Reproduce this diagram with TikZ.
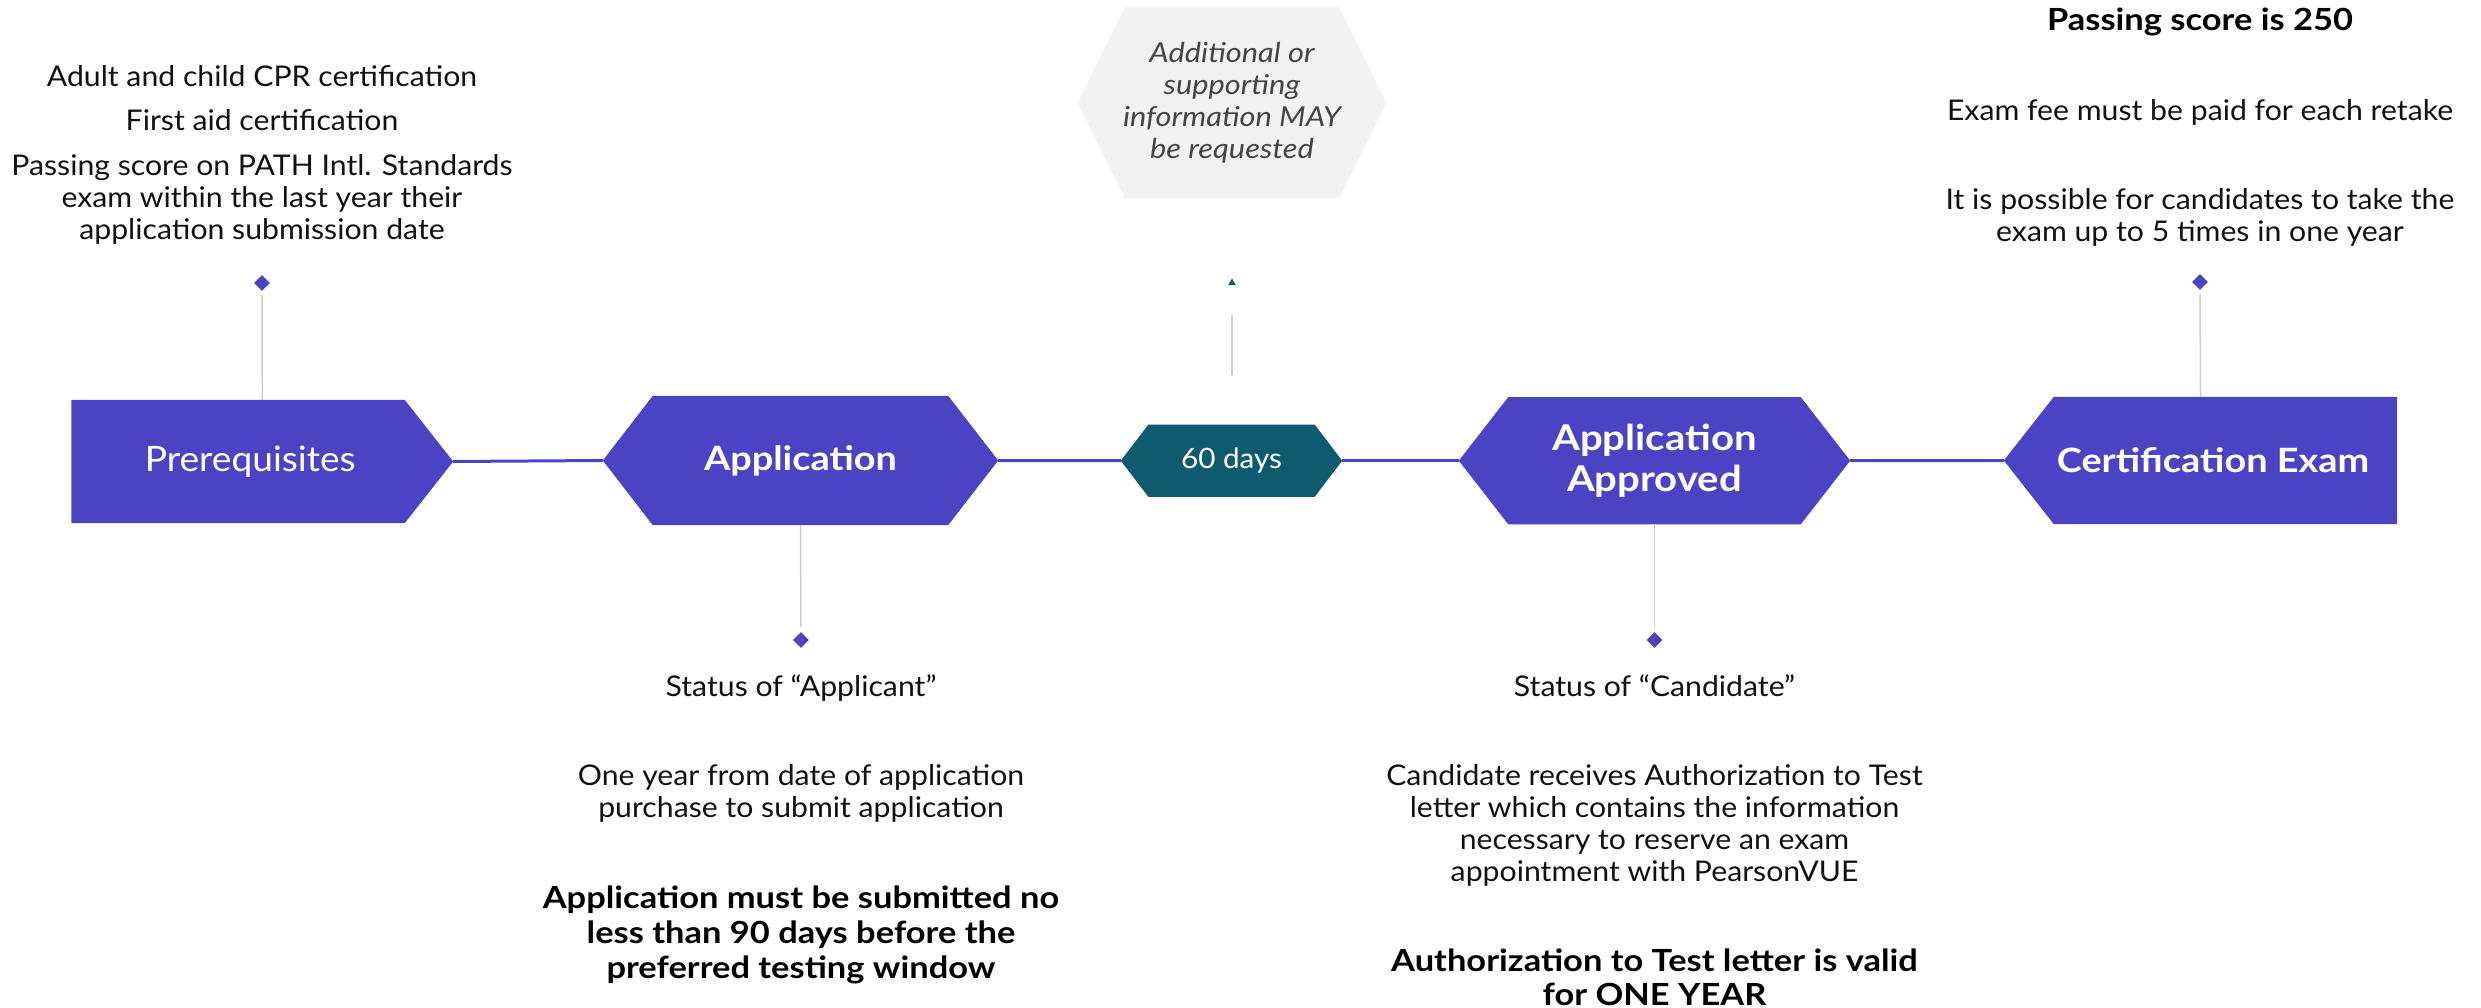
\documentclass[tikz,border=0pt]{standalone}
\usepackage{fontspec}
\setmainfont{Lato}[FakeStretch=1.06, BoldFeatures={FakeStretch=1.13}, ItalicFeatures={FakeStretch=1.12}]
\usetikzlibrary{shapes.geometric,backgrounds}
\definecolor{stepviolet}{HTML}{4A44C5}
\definecolor{waitteal}{HTML}{0E5A6E}
\definecolor{notegray}{HTML}{F2F2F2}
\definecolor{notetext}{HTML}{454545}
\definecolor{leadgray}{HTML}{CCCCCC}
\definecolor{bodytext}{HTML}{111111}
\begin{document}
\begin{tikzpicture}[x=1pt,y=-1pt,
  stage/.style={shape=rectangle, text=white, inner sep=0pt, align=center},
  flow/.style={draw=stepviolet, line width=3pt},
  lead/.style={draw=leadgray, line width=1.5pt},
  dot/.style={diamond, fill=stepviolet, inner sep=0pt, minimum width=16pt, minimum height=16pt},
  body/.style={font=\fontsize{28.5}{32}\selectfont, text=bodytext, align=center, anchor=base, inner sep=0pt},
  strong/.style={font=\bfseries\fontsize{30.5}{35}\selectfont, text=black, align=center, anchor=base, inner sep=0pt}
]
\useasboundingbox (0,0) rectangle (2481,1008);

% main stages (text boxes; outlines filled on background layer)
\node[stage, minimum width=381.4pt, minimum height=123pt,
      font=\fontsize{35}{40}\selectfont] (pre) at (262.3,461.5) {\hspace*{-24pt}Prerequisites};
\node[stage, minimum width=395pt, minimum height=129pt,
      font=\bfseries\fontsize{33.5}{40}\selectfont] (app) at (800.5,460.5) {Application};
\node[stage, minimum width=221pt, minimum height=72pt,
      font=\fontsize{28}{32}\selectfont] (wait) at (1231.5,460.7) {60 days};
\node[stage, minimum width=391pt, minimum height=127pt,
      font=\bfseries\fontsize{35.5}{41}\selectfont] (ok) at (1654.5,460.7) {Application\\Approved};
\node[stage, minimum width=393pt, minimum height=127pt,
      font=\bfseries\fontsize{33.5}{40}\selectfont] (exam) at (2200.5,460.5) {\hspace*{25pt}Certification Exam};

% note hexagon
\node[shape=rectangle, inner sep=0pt, minimum width=308pt, minimum height=190pt,
      font=\itshape\fontsize{27.5}{32}\selectfont, text=notetext, align=center]
  (extra) at (1232,102.7) {Additional or\\supporting\\information MAY\\be requested};

\begin{scope}[on background layer]
\fill[stepviolet] (pre.north west) -- ([xshift=-48.5pt]pre.north east) -- (pre.east)
   -- ([xshift=-48.5pt]pre.south east) -- (pre.south west) -- cycle;
\fill[stepviolet] (app.west) -- ([xshift=50pt]app.north west) -- ([xshift=-50pt]app.north east) -- (app.east)
   -- ([xshift=-50pt]app.south east) -- ([xshift=50pt]app.south west) -- cycle;
\fill[waitteal] (wait.west) -- ([xshift=27.6pt]wait.north west) -- ([xshift=-27.6pt]wait.north east) -- (wait.east)
   -- ([xshift=-27.6pt]wait.south east) -- ([xshift=27.6pt]wait.south west) -- cycle;
\fill[stepviolet] (ok.west) -- ([xshift=49.5pt]ok.north west) -- ([xshift=-49.5pt]ok.north east) -- (ok.east)
   -- ([xshift=-49.5pt]ok.south east) -- ([xshift=49.5pt]ok.south west) -- cycle;
\fill[stepviolet] (exam.west) -- ([xshift=50pt]exam.north west) -- (exam.north east)
   -- (exam.south east) -- ([xshift=50pt]exam.south west) -- cycle;
\fill[notegray] (extra.west) -- ([xshift=47pt]extra.north west) -- ([xshift=-47pt]extra.north east) -- (extra.east)
   -- ([xshift=-47pt]extra.south east) -- ([xshift=47pt]extra.south west) -- cycle;
\end{scope}

% connectors
\draw[flow] (pre.east) -- (app.west);
\draw[flow] (app.east) -- (wait.west);
\draw[flow] (wait.east) -- (ok.west);
\draw[flow] (ok.east) -- (exam.west);

% markers
\node[dot] (d1) at (262,283) {};
\node[dot] (d2) at (801,640) {};
\node[dot] (d3) at (1654.5,640) {};
\node[dot] (d4) at (2200,282) {};
\draw[lead, shorten <=4pt] (d1.south) -- (pre.north);
\draw[lead, shorten >=5pt] (app.south) -- (d2.north);
\draw[lead, shorten >=5pt] (ok.south) -- (d3.north);
\draw[lead, shorten <=4pt] (d4.south) -- (exam.north);

\node[regular polygon, regular polygon sides=3, fill=waitteal, inner sep=0pt, minimum size=9pt] (tick) at (1232,283) {};
\coordinate (ltop) at (1232,315);
\coordinate (lbot) at (1232,375);
\draw[lead] (lbot) -- (ltop);

% texts left top
\node[body] (t1) at (262,87) {Adult and child CPR certification};
\node[body] (t2) at (262,131) {First aid certification};
\node[body] (t3) at (262,240) {Passing score on PATH Intl. Standards\\exam within the last year their\\application submission date};

% texts right top
\node[strong] (r1) at (2200,31) {Passing score is 250};
\node[body] (r2) at (2200,121) {Exam fee must be paid for each retake};
\node[body] (r3) at (2200,242) {It is possible for candidates to take the\\exam up to 5 times in one year};

% texts under application
\node[body] (a1) at (801,696) {Status of “Applicant”};
\node[body] (a2) at (801,817) {One year from date of application\\purchase to submit application};
\node[strong] (a3) at (801,978) {Application must be submitted no\\less than 90 days before the\\preferred testing window};

% texts under approved
\node[body] (c1) at (1654.5,696) {Status of “Candidate”};
\node[body] (c2) at (1654.5,881) {Candidate receives Authorization to Test\\letter which contains the information\\necessary to reserve an exam\\appointment with PearsonVUE};
\node[strong, font=\bfseries\fontsize{30.5}{33.5}\selectfont] (c3) at (1654.5,1005) {Authorization to Test letter is valid\\for ONE YEAR};
\end{tikzpicture}
\end{document}
